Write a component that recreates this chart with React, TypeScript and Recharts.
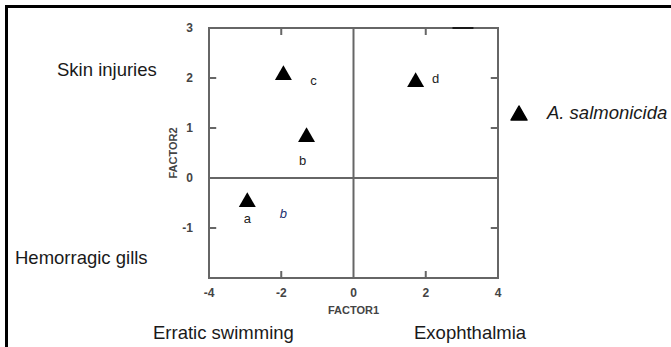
import { ScatterChart, Scatter, XAxis, YAxis, ReferenceLine, ReferenceArea, Legend, Symbols } from "recharts"

// factor scores of the four groups
const groups = ["a", "b", "c", "d"]
const factor1 = [-2.94, -1.3, -1.94, 1.72]
const factor2 = [-0.48, 0.82, 2.06, 1.92]

// letter annotations (data coords)
const letters = ["a", "b", "c", "d", "b"]
const letterX = [-2.94, -1.41, -1.11, 2.27, -1.94]
const letterY = [-0.8, 0.36, 1.96, 2.0, -0.7]
const letterItalic = [false, false, false, false, true]

const xTicks = [-4, -2, 0, 2, 4]
const yTicks = [-1, 0, 1, 2, 3]
const xInnerTicks = [-2, 2]
const yInnerTicks = [-1, 1, 2]

const FONT = "'Liberation Sans', Arial, sans-serif"
const AXIS = "#666"

const points = groups.map((g, i) => ({ x: factor1[i], y: factor2[i], name: g }))
const letterData = letters.map((t, i) => ({ x: letterX[i], y: letterY[i], t, it: letterItalic[i] }))

const tickStyle = { fontSize: 12, fontWeight: 700, fill: "#444", fontFamily: FONT }

const TriangleShape = (p: any) => <Symbols cx={p.cx} cy={p.cy} type="triangle" size={125} fill="#000" />

const LetterShape = (p: any) => (
  <text
    x={p.cx}
    y={p.cy}
    textAnchor="middle"
    dominantBaseline="central"
    fontFamily={FONT}
    fontSize={13}
    fontStyle={p.payload.it ? "italic" : "normal"}
    fill={p.payload.it ? "#223070" : "#222"}
  >
    {p.payload.t}
  </text>
)

const LegendContent = () => (
  <div style={{ display: "flex", alignItems: "center", fontFamily: FONT }}>
    <svg width={20} height={18}>
      <path d="M10 2 L18 16 L2 16 Z" fill="#000" stroke="#000" strokeLinejoin="round" strokeWidth={1.5} />
    </svg>
    <span style={{ marginLeft: 18, fontSize: 18.5, fontStyle: "italic", color: "#1a1a1a" }}>A. salmonicida</span>
  </div>
)

const sideText = (text: string, left: number, top: number) => (
  <div style={{ position: "absolute", left, top, fontFamily: FONT, fontSize: 18.5, color: "#1a1a1a", whiteSpace: "nowrap", lineHeight: "22px" }}>
    {text}
  </div>
)

export default function App() {
  return (
    <div style={{ position: "absolute", left: 0, top: 0, width: 671, height: 347, overflow: "hidden", background: "#fff" }}>
      <div style={{ position: "absolute", left: 5, top: 5, width: 666, height: 342, borderLeft: "3px solid #000", borderTop: "3px solid #000" }} />
      <ScatterChart width={671} height={347} margin={{ top: 28, right: 173, bottom: 39, left: 169 }}>
        <XAxis
          type="number"
          dataKey="x"
          domain={[-4, 4]}
          ticks={xTicks}
          height={30}
          axisLine={false}
          tickLine={false}
          tickSize={6}
          tickMargin={4}
          tick={tickStyle}
          label={{ value: "FACTOR1", position: "insideBottom", offset: -6, style: { ...tickStyle, fontSize: 11 } }}
        />
        <YAxis
          type="number"
          dataKey="y"
          domain={[-2, 3]}
          ticks={yTicks}
          width={40}
          axisLine={false}
          tickLine={false}
          tickSize={8}
          tickMargin={8}
          tick={tickStyle}
          label={{
            content: (props: any) => {
              const vb = props.viewBox
              const cx = vb.x + 4
              const cy = vb.y + vb.height / 2
              return (
                <text x={cx} y={cy} transform={`rotate(-90 ${cx} ${cy})`} textAnchor="middle" dominantBaseline="central" fontFamily={FONT} fontSize={11} fontWeight={700} fill="#444">
                  FACTOR2
                </text>
              )
            },
          }}
        />
        <ReferenceArea x1={-4} x2={4} y1={-2} y2={3} fill="none" stroke={AXIS} strokeWidth={2} ifOverflow="visible" />
        <ReferenceLine x={0} stroke={AXIS} strokeWidth={2} />
        <ReferenceLine y={0} stroke={AXIS} strokeWidth={2} />
        {xInnerTicks.map((t) => (
          <ReferenceLine key={"xb" + t} segment={[{ x: t, y: -2 }, { x: t, y: -1.86 }]} stroke={AXIS} strokeWidth={2} />
        ))}
        {xInnerTicks.map((t) => (
          <ReferenceLine key={"xt" + t} segment={[{ x: t, y: 3 }, { x: t, y: 2.86 }]} stroke={AXIS} strokeWidth={2} />
        ))}
        {yInnerTicks.map((t) => (
          <ReferenceLine key={"yl" + t} segment={[{ x: -4, y: t }, { x: -3.8, y: t }]} stroke={AXIS} strokeWidth={2} />
        ))}
        {yInnerTicks.map((t) => (
          <ReferenceLine key={"yr" + t} segment={[{ x: 4, y: t }, { x: 3.8, y: t }]} stroke={AXIS} strokeWidth={2} />
        ))}
        <ReferenceLine segment={[{ x: 2.74, y: 3 }, { x: 3.32, y: 3 }]} stroke="#000" strokeWidth={1.5} />
        <Scatter data={points} fill="#000" shape={TriangleShape} legendType="triangle" name="A. salmonicida" isAnimationActive={false} />
        <Scatter data={letterData} shape={LetterShape} legendType="none" isAnimationActive={false} />
        <Legend
          layout="vertical"
          align="center"
          verticalAlign="middle"
          content={LegendContent}
          wrapperStyle={{ position: "absolute", left: 509, top: 102, width: 170 }}
        />
      </ScatterChart>
      {sideText("Skin injuries", 57, 59)}
      {sideText("Hemorragic gills", 15, 247)}
      {sideText("Erratic swimming", 153, 322)}
      {sideText("Exophthalmia", 414, 322)}
    </div>
  )
}
